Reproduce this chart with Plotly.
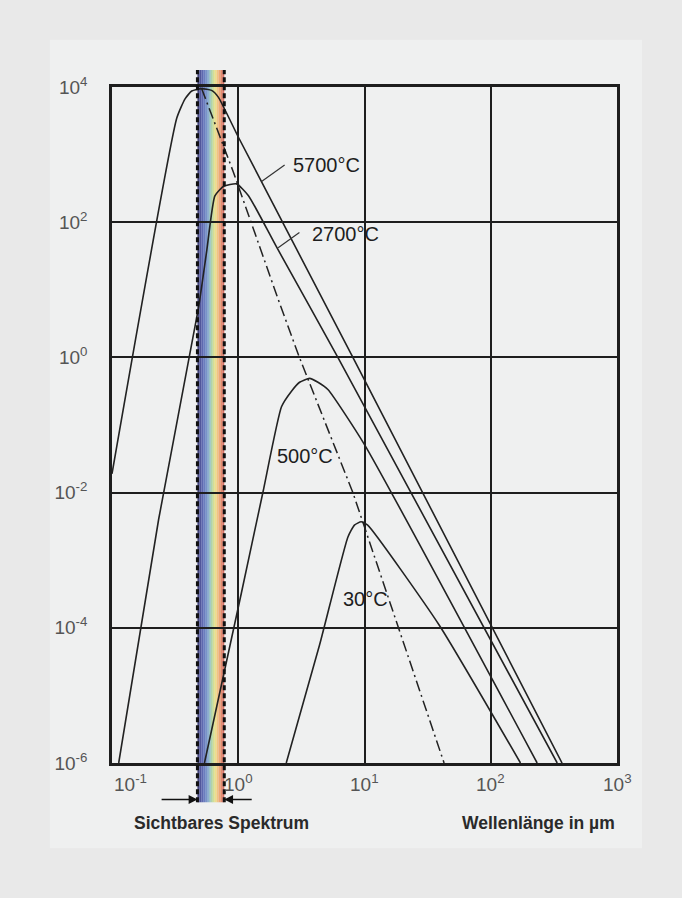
import numpy as np
import plotly.graph_objects as go

# ---------------- data ----------------
x_5700 = [0.100, 0.326, 0.379, 0.428, 0.513, 0.615, 0.695, 1.01, 8.09, 367]
y_5700 = [0.019, 3.47e3, 6.68e3, 8.71e3, 9.47e3, 8.91e3, 7.08e3, 1.76e3, 1.0, 1e-6]

x_2700 = [0.113, 0.234, 0.483, 0.562, 0.653, 0.766, 0.970, 1.205, 2.005, 6.15, 336]
y_2700 = [1e-6, 4.0e-3, 5.25, 36.9, 245, 340, 369, 247, 43.4, 1.0, 1e-6]

x_500 = [0.540, 1.06, 1.57, 2.20, 2.64, 3.06, 3.67, 4.28, 5.13, 10.0, 233]
y_500 = [1e-6, 3.3e-4, 1.02e-2, 0.186, 0.316, 0.429, 0.49, 0.429, 0.335, 0.0513, 1e-6]

x_30 = [2.40, 4.41, 7.38, 8.32, 9.40, 10.6, 39.0, 172]
y_30 = [1e-6, 5.6e-5, 2.19e-3, 3.3e-3, 3.7e-3, 3.3e-3, 1.1e-4, 1e-6]

# Wien displacement locus (dash-dot)
x_wien = [0.513, 0.914, 2.07, 3.05, 8.09, 42.7]
y_wien = [9.47e3, 555, 7.26, 1.0, 0.01, 1e-6]

curve_labels = ["5700°C", "2700°C", "500°C", "30°C"]
label_x = [2.63, 3.67, 1.95, 6.53]
label_y = [700, 66.8, 0.0351, 2.63e-4]

leader_x = [(1.53, 2.33), (2.07, 3.05)]
leader_y = [(400, 700), (42, 70.6)]

vis_lo, vis_hi = 0.475, 0.775
vis_colors = ["#2f2f6e", "#3f4590", "#4e5aa8", "#5c70b8", "#6d88c4", "#7fa2cc",
              "#8fbcc0", "#a8cfa0", "#cfdc88", "#ecdc80", "#f0bf74", "#eba06a",
              "#e2805e", "#d46454"]
arrow_tail_left, arrow_tail_right = 0.234, 1.35

x_tick_vals = [0.1, 1, 10, 100, 1000]
x_tick_text = ["10<sup>-1</sup>", "10<sup>0</sup>", "10<sup>1</sup>", "10<sup>2</sup>", "10<sup>3</sup>"]
y_tick_vals = [1e-6, 1e-4, 1e-2, 1, 1e2, 1e4]
y_tick_text = ["10<sup>-6</sup>", "10<sup>-4</sup>", "10<sup>-2</sup>", "10<sup>0</sup>", "10<sup>2</sup>", "10<sup>4</sup>"]

x_title = "Wellenlänge in µm"
band_title = "Sichtbares Spektrum"

# ---------------- figure ----------------
FONT = "Liberation Sans, Arial, sans-serif"
INK = "#1e1e1e"
fig = go.Figure()

line_style = dict(color="#222222", width=1.6, shape="spline", smoothing=0.5)
for xs, ys in [(x_5700, y_5700), (x_2700, y_2700), (x_500, y_500), (x_30, y_30)]:
    fig.add_trace(go.Scatter(x=xs, y=ys, mode="lines", line=line_style, hoverinfo="skip"))
fig.add_trace(go.Scatter(x=x_wien, y=y_wien, mode="lines",
                         line=dict(color="#222222", width=1.5, dash="11px,4px,2px,4px"),
                         hoverinfo="skip"))

shapes = []
# background panel
shapes.append(dict(type="rect", xref="paper", yref="paper", x0=-0.123, x1=1.0495,
                   y0=-0.126, y1=1.07, fillcolor="#eff0f0", line=dict(width=0), layer="below"))
# visible spectrum stripes
edges = np.logspace(np.log10(vis_lo), np.log10(vis_hi), len(vis_colors) + 1)
for i, c in enumerate(vis_colors):
    shapes.append(dict(type="rect", xref="x", yref="paper", x0=edges[i], x1=edges[i + 1],
                       y0=-0.058, y1=1.025, fillcolor=c, opacity=0.9,
                       line=dict(width=0), layer="between"))
for xv in (vis_lo, vis_hi):
    shapes.append(dict(type="line", xref="x", yref="paper", x0=xv, x1=xv, y0=-0.058, y1=1.025,
                       line=dict(color="#111111", width=3, dash="5px,3px"), layer="above"))
# leader lines
for (xa, xb), (ya, yb) in zip(leader_x, leader_y):
    shapes.append(dict(type="line", xref="x", yref="y", x0=xa, x1=xb, y0=ya, y1=yb,
                       line=dict(color="#333333", width=1.2)))

annotations = []
for t, xv, yv in zip(curve_labels, label_x, label_y):
    annotations.append(dict(x=np.log10(xv), y=np.log10(yv), xref="x", yref="y", text=t,
                            showarrow=False, xanchor="left", yanchor="middle",
                            font=dict(family=FONT, size=20, color=INK)))
for i, (v, t) in enumerate(zip(x_tick_vals, x_tick_text)):
    annotations.append(dict(x=np.log10(v), y=0, xref="x", yref="paper", text=t,
                            showarrow=False, xanchor="left" if i == 0 else "center",
                            yanchor="top", yshift=-6,
                            font=dict(family=FONT, size=19, color="#555555")))
# arrows
for head, tail in [(vis_lo, arrow_tail_left), (vis_hi, arrow_tail_right)]:
    annotations.append(dict(x=np.log10(head), y=-0.054, xref="x", yref="paper", text=" ",
                            showarrow=True, axref="x", ayref="pixel", ax=np.log10(tail), ay=0,
                            arrowhead=2, arrowsize=1.1, arrowwidth=1.6, arrowcolor="#111111",
                            standoff=0, startstandoff=0, font=dict(size=10)))
annotations.append(dict(x=0.04, y=-0.089, xref="paper", yref="paper", text=f"<b>{band_title}</b>",
                        showarrow=False, xanchor="left", yanchor="middle",
                        font=dict(family=FONT, size=17.5, color="#2a2a2a")))
annotations.append(dict(x=1.0, y=-0.089, xref="paper", yref="paper", text=f"<b>{x_title}</b>",
                        showarrow=False, xanchor="right", yanchor="middle",
                        font=dict(family=FONT, size=17.5, color="#2a2a2a")))

axis_common = dict(type="log", showgrid=True, gridcolor=INK, gridwidth=2,
                   showline=True, linecolor=INK, linewidth=2.5, mirror=True,
                   zeroline=False, ticks="")

fig.update_layout(
    width=682, height=898,
    margin=dict(l=112, r=65, t=87, b=135),
    paper_bgcolor="#e9e9e9", plot_bgcolor="#eff0f0",
    showlegend=False,
    font=dict(family=FONT, color="#555555"),
    xaxis=dict(axis_common, range=[-1, 3], tickvals=x_tick_vals, showticklabels=False),
    yaxis=dict(axis_common, range=[-6, 4], tickvals=y_tick_vals, ticktext=y_tick_text,
               tickfont=dict(family=FONT, size=19, color="#555555"), ticklabelstandoff=18),
    shapes=shapes,
    annotations=annotations,
)

fig.write_html(
    "out.html",
    config={"displayModeBar": False},
    post_script="document.body.style.margin='0';document.body.style.padding='0';"
                "document.body.style.background='#e9e9e9';"
                "document.documentElement.style.overflow='hidden';",
)
